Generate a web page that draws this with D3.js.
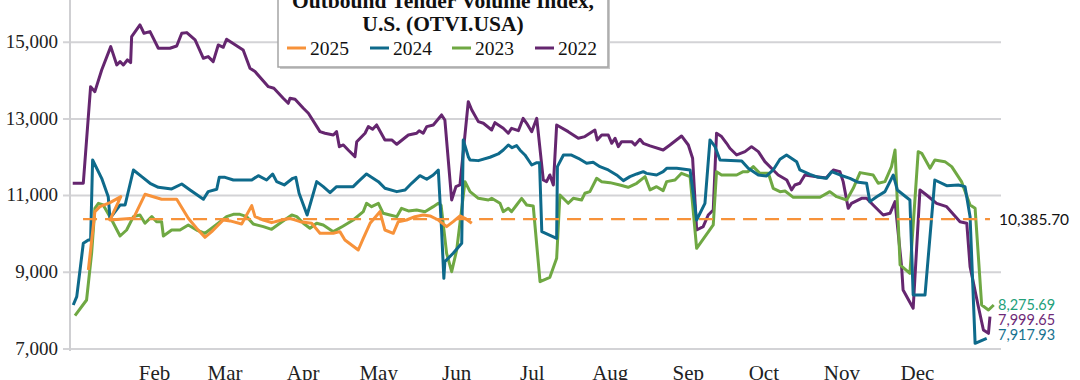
<!DOCTYPE html>
<html><head><meta charset="utf-8">
<script src="https://cdn.jsdelivr.net/npm/d3@7"></script>
<style>html,body{margin:0;padding:0;background:#fff;}svg{display:block;}</style>
</head><body>
<svg id="c" width="1080" height="380"></svg>
<script>
// ---- data (day of year, index value) ----
const s2022 = [[-1.3,11322],[2.9,11322],[5.8,13841],[7.5,13710],[10.2,14276],[13.8,14884],[16.2,14407],[17.5,14493],[18.8,14407],[20.4,14537],[21.7,14467],[22.1,15145],[25.4,15450],[27.0,15233],[29.4,15276],[32.7,14842],[37.3,14842],[40.0,14902],[42.0,15233],[44.0,15250],[47.3,15059],[50.6,14581],[52.5,14624],[54.5,14493],[56.5,14928],[58.5,14868],[59.8,15077],[66.4,14798],[69.1,14320],[71.1,14233],[76.4,13841],[78.6,13798],[82.3,13538],[84.3,13407],[85.0,13538],[87.0,13512],[90.3,13277],[92.3,13147],[96.9,12667],[98.9,12625],[102.2,12581],[103.5,12667],[104.6,12276],[106.2,12320],[108.1,12190],[110.8,12015],[111.5,12406],[114.8,12625],[116.1,12798],[117.8,12729],[119.4,12842],[122.7,12451],[125.4,12451],[127.4,12338],[132.0,12581],[135.3,12625],[136.3,12693],[137.9,12625],[139.3,12798],[141.9,12842],[145.2,13103],[146.5,12972],[149.2,10886],[150.9,11233],[152.5,11277],[155.8,13450],[157.2,13233],[159.8,12929],[161.8,12886],[165.1,12711],[166.4,12902],[169.7,12755],[171.7,12625],[173.0,12755],[175.7,12693],[177.6,13016],[179.0,12886],[181.0,12667],[183.0,13016],[185.6,11407],[186.9,11364],[188.2,11538],[189.6,11277],[190.9,12842],[195.5,12667],[199.5,12494],[202.1,12538],[204.1,12625],[206.1,12711],[207.0,12451],[208.8,12581],[211.4,12581],[212.8,12364],[214.1,12494],[215.4,12276],[216.7,12406],[220.7,12406],[222.0,12320],[224.0,12468],[225.3,12364],[228.0,12295],[233.2,12190],[235.9,12320],[240.5,12555],[243.2,12320],[244.9,11973],[246.5,10103],[249.1,10190],[251.1,10494],[253.1,10625],[254.4,12625],[256.4,12538],[258.4,12364],[259.7,12234],[262.4,12060],[265.7,12146],[268.3,12276],[271.0,12146],[273.6,11885],[276.9,11668],[278.9,11538],[282.3,11407],[284.2,11147],[285.5,11277],[287.5,11321],[289.5,11538],[293.5,11500],[297.9,11460],[300.8,11668],[303.4,11624],[304.7,11364],[306.7,10668],[308.0,10799],[312.0,10929],[314.0,10929],[316.6,10755],[320.6,10494],[323.3,10538],[325.3,10842],[327.9,9147],[328.5,8539],[332.5,8062],[335.2,11147],[337.8,11016],[341.8,10799],[345.8,10712],[351.1,10320],[353.8,10278],[355.1,9147],[358.4,8103],[360.4,7495],[362.4,7408],[363.0,7842]];
const s2023 = [[-0.4,7868],[4.2,8278],[6.2,9495],[7.5,10669],[8.9,10799],[10.8,10755],[14.2,10364],[17.5,9947],[20.1,10103],[22.8,10451],[25.4,10494],[27.4,10278],[30.1,10451],[32.0,10320],[34.0,10320],[34.7,9947],[38.0,10103],[41.3,10103],[44.6,10234],[47.9,10103],[51.2,10017],[53.9,10147],[56.5,10278],[59.8,10451],[62.5,10512],[65.1,10512],[67.8,10451],[70.4,10260],[74.4,10190],[77.7,10121],[81.4,10300],[85.7,10494],[87.7,10451],[90.3,10278],[92.9,10147],[95.6,10278],[98.2,10234],[102.2,10060],[106.0,10200],[110.1,10364],[114.1,10581],[115.4,10799],[117.4,10712],[120.1,10799],[122.0,10538],[124.7,10494],[127.4,10451],[129.3,10669],[132.0,10599],[135.3,10625],[138.6,10581],[141.9,10712],[143.9,10799],[145.0,10750],[147.2,9495],[149.2,9016],[151.2,9582],[154.5,11364],[156.5,11103],[159.8,10929],[163.8,10886],[165.1,10929],[168.4,10799],[169.7,10581],[171.7,10669],[173.0,10581],[175.0,10755],[177.0,10929],[179.0,10755],[181.6,10729],[184.3,8755],[188.2,8869],[190.9,9365],[192.2,11016],[195.5,10799],[197.5,10929],[200.8,10886],[202.1,11060],[204.1,11103],[206.8,11451],[208.8,11364],[212.1,11338],[216.0,11277],[219.3,11216],[222.7,11321],[226.0,11494],[228.0,11147],[230.6,11233],[233.2,11129],[234.6,11364],[237.9,11407],[240.5,11581],[243.9,11494],[246.5,9626],[253.1,10234],[254.4,11624],[256.4,11538],[262.4,11538],[265.0,11624],[266.9,11624],[269.0,11755],[271.6,11581],[275.0,11581],[276.9,11190],[279.6,11103],[281.6,11120],[284.9,10955],[295.5,10955],[299.4,11103],[302.1,10972],[306.1,10886],[308.7,11190],[311.4,11599],[316.6,11538],[318.6,11321],[321.3,11364],[323.9,11755],[325.3,12190],[327.3,9191],[331.2,8974],[334.5,12146],[335.9,12103],[339.2,11712],[341.1,11929],[345.1,11885],[347.8,11755],[351.7,11364],[355.1,10755],[357.1,10669],[359.7,8147],[362.4,8017],[364.5,8147]];
const s2024 = [[-1.1,8147],[0.3,8364],[2.9,9756],[4.9,9843],[5.8,9843],[6.6,11929],[10.2,11451],[12.8,10972],[13.5,10408],[17.5,10755],[19.5,10755],[22.8,11668],[26.1,11494],[29.4,11321],[32.7,11216],[38.0,11173],[42.0,11303],[45.3,11147],[50.6,10904],[52.5,11103],[55.9,11164],[56.9,11477],[59.2,11477],[62.5,11407],[67.1,11407],[69.8,11407],[72.4,11520],[75.7,11407],[78.1,11564],[79.7,11364],[82.7,11277],[86.1,11451],[87.3,11477],[88.6,11060],[91.8,10494],[95.6,11364],[98.2,11233],[100.9,11077],[103.5,11233],[106.8,11233],[110.1,11233],[112.1,11364],[115.4,11564],[120.1,11364],[122.7,11190],[127.4,11103],[130.7,11147],[133.3,11321],[136.6,11520],[139.3,11425],[141.9,11538],[143.9,11668],[145.2,10103],[146.1,8843],[146.5,9277],[149.8,9495],[153.2,9756],[153.8,12451],[155.8,12015],[156.5,11929],[159.8,11912],[164.4,12000],[167.7,12086],[169.7,12190],[171.7,12320],[173.2,12250],[175.0,12303],[176.3,12190],[178.3,12060],[181.0,11798],[183.0,11858],[184.1,11858],[185.0,10060],[190.9,9886],[191.2,11755],[193.6,12060],[196.6,12060],[199.5,11973],[202.8,11842],[205.4,11869],[208.1,11755],[211.4,11668],[214.7,11538],[217.4,11390],[220.0,11494],[222.7,11564],[225.3,11624],[226.6,11580],[230.6,11538],[233.2,11624],[234.6,11712],[238.6,11712],[243.9,11670],[246.5,10364],[249.8,10799],[251.8,12451],[253.8,12276],[255.8,11929],[264.4,11903],[267.0,11712],[271.0,11538],[274.3,11512],[276.9,11668],[279.6,11947],[282.2,12060],[286.2,11885],[287.5,11668],[291.5,11555],[294.8,11477],[298.1,11451],[300.1,11624],[303.4,11538],[307.4,11451],[310.7,11347],[314.0,11321],[315.3,10842],[318.0,10972],[321.3,11103],[324.6,11538],[326.2,11147],[331.2,10886],[332.5,8408],[337.2,8408],[341.1,11407],[345.8,11260],[350.4,11277],[353.1,11233],[355.1,10451],[357.1,7148],[361.7,7277]];
const s2025 = [[4.9,9060],[7.5,10581],[9.5,10712],[13.5,10816],[17.8,10972],[13.5,10364],[22.8,10408],[27.4,11034],[34.0,10904],[40.0,10904],[44.6,10408],[47.9,10147],[51.2,9912],[53.9,10060],[58.5,10364],[61.2,10340],[65.8,10260],[69.8,10738],[71.1,10451],[74.4,10364],[77.7,10295],[81.7,10364],[85.0,10408],[89.0,10320],[93.6,10278],[96.9,10017],[102.2,10017],[104.8,10060],[106.8,9843],[112.1,9582],[114.1,9886],[116.8,10278],[120.7,10581],[122.7,10103],[126.0,10017],[128.0,10320],[131.3,10364],[134.6,10451],[137.9,10494],[140.6,10469],[143.9,10364],[147.2,10190],[149.8,10320],[152.5,10469],[154.5,10408],[157.2,10278]];
const avg2025 = 10385.70;
const seriesNames = ["2025", "2024", "2023", "2022"];
const seriesColors = ["#F7923A", "#0E6A8B", "#6FA843", "#65266F"];
const monthDays = [31, 59, 90, 120, 151, 181, 212, 243, 273, 304, 334];
const monthLabels = ["Feb","Mar","Apr","May","Jun","Jul","Aug","Sep","Oct","Nov","Dec"];
const yTicks = [7000, 9000, 11000, 13000, 15000];
const endLabels = ["8,275.69", "7,999.65", "7,917.93"];
const endColors = ["#23A07A", "#6E2A78", "#18728F"];
const titleLines = ["Outbound Tender Volume Index,", "U.S. (OTVI.USA)"];

// ---- chart ----
const svg = d3.select("#c");
const x = d3.scaleLinear().domain([0, 365]).range([76, 995]);
const y = d3.scaleLinear().domain([7000, 17000]).range([349, -34.5]);
const serif = "'Liberation Serif', 'DejaVu Serif', serif";

// gridlines
svg.append("g").selectAll("line").data(yTicks).join("line")
  .attr("x1", 63).attr("x2", 1001)
  .attr("y1", d => y(d)).attr("y2", d => y(d))
  .attr("stroke", "#d3d3d6").attr("stroke-width", 2);
// y axis line
svg.append("line").attr("x1", 70).attr("x2", 70).attr("y1", 0).attr("y2", y(7000) + 2)
  .attr("stroke", "#cfcfd2").attr("stroke-width", 2);

// y axis labels
const yAxis = d3.axisLeft(y).tickValues(yTicks).tickSize(0).tickPadding(0)
  .tickFormat(d3.format(","));
svg.append("g").attr("transform", "translate(58,0)").call(yAxis)
  .call(g => g.select(".domain").remove())
  .selectAll("text").attr("font-family", serif).attr("font-size", 19)
  .attr("fill", "#222").attr("dy", "0.28em");

// x axis labels
const xAxis = d3.axisBottom(x).tickValues(monthDays).tickSize(0).tickPadding(0)
  .tickFormat((d, i) => monthLabels[i]);
svg.append("g").attr("transform", "translate(0,365)").call(xAxis)
  .call(g => g.select(".domain").remove())
  .selectAll("text").attr("font-family", serif).attr("font-size", 21)
  .attr("fill", "#222").attr("dy", "0.72em");

// lines
const line = d3.line().x(d => x(d[0])).y(d => y(d[1]));
const drawOrder = [[s2022, 3], [s2023, 2], [s2024, 1], [s2025, 0]];
drawOrder.forEach(([data, ci]) => {
  svg.append("path").datum(data).attr("d", line)
    .attr("fill", "none").attr("stroke", seriesColors[ci])
    .attr("stroke-width", 3).attr("stroke-linejoin", "round");
});

// average dashed line
svg.append("line").attr("x1", x(2.8)).attr("x2", x(363))
  .attr("y1", y(avg2025)).attr("y2", y(avg2025))
  .attr("stroke", "#F7923A").attr("stroke-width", 2.2).attr("stroke-dasharray", "14,8");
svg.append("text").attr("x", 999).attr("y", y(avg2025)).attr("dy", "0.35em")
  .attr("font-family", "Lato, 'Open Sans', sans-serif").attr("font-size", 15.5)
  .attr("fill", "#111").text(d3.format(",.2f")(avg2025));

// end labels
const ly0 = y(s2023[s2023.length - 1][1]);
svg.append("g").selectAll("text").data(endLabels).join("text")
  .attr("x", 998).attr("y", (d, i) => ly0 + i * 15).attr("dy", "0.35em")
  .attr("font-family", "Lato, 'Open Sans', sans-serif").attr("font-size", 14.5)
  .attr("fill", (d, i) => endColors[i]).text(d => d);

// legend box
const lg = svg.append("g");
lg.append("rect").attr("x", 280).attr("y", -30).attr("width", 330).attr("height", 99)
  .attr("fill", "#c9c9c9");
lg.append("rect").attr("x", 278).attr("y", -32).attr("width", 330).attr("height", 99)
  .attr("fill", "#fff").attr("stroke", "#a5a5a5").attr("stroke-width", 1.5);
lg.selectAll("text.t").data(titleLines).join("text").attr("class", "t")
  .attr("x", 443).attr("y", (d, i) => 8 + i * 23).attr("text-anchor", "middle")
  .attr("font-family", serif).attr("font-weight", "bold").attr("font-size", 21.5)
  .attr("fill", "#111").text(d => d);
const legX = [287, 370, 452, 535];
seriesNames.forEach((n, i) => {
  lg.append("line").attr("x1", legX[i]).attr("x2", legX[i] + 19).attr("y1", 48).attr("y2", 48)
    .attr("stroke", seriesColors[i]).attr("stroke-width", 3);
  lg.append("text").attr("x", legX[i] + 23).attr("y", 55).attr("font-family", serif)
    .attr("font-size", 19.5).attr("fill", "#111").text(n);
});
</script>
</body></html>
